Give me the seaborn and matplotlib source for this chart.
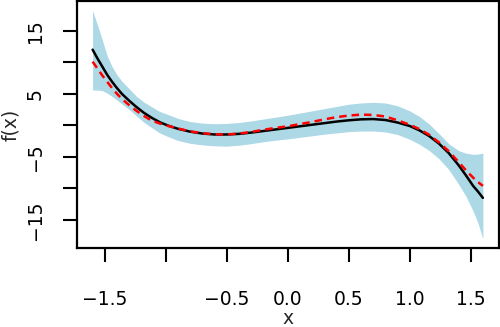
import numpy as np
import pandas as pd
import matplotlib
matplotlib.use("Agg")
import matplotlib.pyplot as plt
import seaborn as sns

# Data
x_vals = [-1.60, -1.56, -1.52, -1.48, -1.44, -1.40, -1.36, -1.30, -1.24, -1.18,
          -1.12, -1.05, -0.98, -0.90, -0.80, -0.70, -0.60, -0.50, -0.40, -0.30,
          -0.20, -0.10, 0.00, 0.10, 0.20, 0.30, 0.40, 0.50, 0.60, 0.70,
          0.80, 0.90, 1.00, 1.08, 1.16, 1.24, 1.32, 1.40, 1.46, 1.52,
          1.56, 1.60]
f_true = [12.0, 10.6, 9.3, 8.0, 6.9, 5.9, 5.0, 3.9, 2.9, 2.0,
          1.25, 0.5, -0.05, -0.55, -1.0, -1.3, -1.45, -1.45, -1.35, -1.15,
          -0.9, -0.65, -0.4, -0.15, 0.1, 0.35, 0.6, 0.8, 0.95, 1.0,
          0.85, 0.45, -0.1, -0.8, -1.7, -2.9, -4.4, -6.3, -7.9, -9.6,
          -10.5, -11.5]
f_hat = [10.1, 9.0, 7.9, 6.9, 5.9, 5.0, 4.2, 3.2, 2.3, 1.5,
         0.8, 0.3, -0.1, -0.5, -0.95, -1.25, -1.42, -1.45, -1.3, -1.05,
         -0.7, -0.4, -0.15, 0.2, 0.55, 0.95, 1.3, 1.55, 1.7, 1.65,
         1.4, 0.8, 0.1, -0.6, -1.5, -2.7, -4.1, -5.8, -7.1, -8.3,
         -9.0, -9.6]
band_upper = [18.2, 15.9, 13.5, 11.0, 9.3, 8.0, 7.0, 5.8, 4.6, 3.7,
              3.0, 2.2, 1.7, 1.1, 0.6, 0.35, 0.25, 0.3, 0.45, 0.7,
              1.0, 1.3, 1.6, 1.95, 2.3, 2.65, 3.0, 3.35, 3.55, 3.65,
              3.55, 3.1, 2.3, 1.4, 0.2, -1.3, -2.9, -4.0, -4.4, -4.6,
              -4.55, -4.4]
band_lower = [5.6, 5.6, 5.5, 5.1, 4.6, 4.0, 3.4, 2.5, 1.5, 0.5,
              -0.3, -1.2, -1.8, -2.4, -2.85, -3.1, -3.25, -3.3, -3.15, -2.9,
              -2.6, -2.35, -2.15, -1.9, -1.65, -1.4, -1.2, -1.0, -0.9, -0.9,
              -1.05, -1.45, -2.2, -3.0, -4.0, -5.3, -7.0, -9.3, -11.2, -13.6,
              -15.5, -18.0]

x_ticks = [-1.5, -1.0, -0.5, 0.0, 0.5, 1.0, 1.5]
x_tick_labels = ["\u22121.5", "", "\u22120.5", "0.0", "0.5", "1.0", "1.5"]
y_ticks = [-15, -10, -5, 0, 5, 10, 15]
y_tick_labels = ["\u221215", "", "\u22125", "", "5", "", "15"]

df = pd.DataFrame({"x": x_vals, "true": f_true, "hat": f_hat,
                   "upper": band_upper, "lower": band_lower})

sns.set_theme(style="ticks")
plt.rcParams["font.family"] = ["DejaVu Sans"]

fig = plt.figure(figsize=(5.0, 3.27), dpi=100)
ax = fig.add_axes([0.154, 0.2416, 0.843, 0.754])

ax.fill_between(df["x"], df["lower"], df["upper"], color="#ADD8E6", linewidth=0)
sns.lineplot(data=df, x="x", y="true", ax=ax, color="black", linewidth=1.8)
sns.lineplot(data=df, x="x", y="hat", ax=ax, color="red", linewidth=1.8,
             linestyle=(0, (3, 2)))

xr = max(x_vals) - min(x_vals)
ax.set_xlim(min(x_vals) - 0.04 * xr, max(x_vals) + 0.04 * xr)
ylo = min(band_lower); yhi = max(band_upper)
yr = yhi - ylo
ax.set_ylim(ylo - 0.04 * yr, yhi + 0.04 * yr)

ax.set_xticks(x_ticks)
ax.set_xticklabels(x_tick_labels)
ax.set_yticks(y_ticks)
ax.set_yticklabels(y_tick_labels, rotation=90, va="center")

for s in ax.spines.values():
    s.set_visible(True)
    s.set_linewidth(1.6)
    s.set_color("black")

ax.tick_params(axis="both", direction="out", length=10, width=1.5,
               color="black", labelsize=13.5, labelcolor="black")
ax.tick_params(axis="x", pad=20.5)
ax.tick_params(axis="y", pad=13)

ax.set_xlabel("x", fontsize=13.5, labelpad=-0.5)
ax.set_ylabel("f(x)", fontsize=13.5, labelpad=4)

fig.savefig("out.png", dpi=100)
